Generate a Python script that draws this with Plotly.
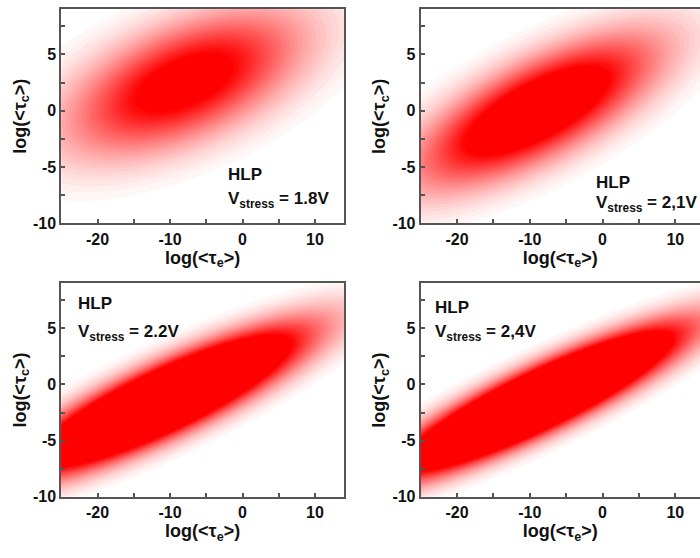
import numpy as np
import plotly.graph_objects as go

# Stress conditions for the four HLP maps
v_stress = ["1.8V", "2,1V", "2.2V", "2,4V"]

# Bivariate Gaussian parameters of log(<tau_e>) / log(<tau_c>) per map
mean_e = [-8.0, -9.0, -11.0, -9.0]
mean_c = [2.5, 0.0, -1.5, -1.5]
sigma_e = [11.0, 11.0, 12.0, 12.0]
sigma_c = [4.3, 4.4, 4.0, 4.0]
rho = [0.55, 0.72, 0.86, 0.89]
peak = [1.2, 1.5, 3.0, 3.4]

x_range = [-25, 14]
y_range = [-10, 9]
x_ticks = [-20, -10, 0, 10]
x_tick_text = ["-20", "-10", "0", "10"]
y_ticks = [-10, -5, 0, 5]
y_tick_text = ["-10", "-5", "0", "5"]

# Panel placement (paper fractions): x-domain, y-domain, x-range right limit
x_domains = [[0.0876, 0.4914], [0.6010, 1.0], [0.0876, 0.4914], [0.6010, 1.0]]
y_domains = [[0.5932, 0.9830], [0.5932, 0.9830], [0.0950, 0.4839], [0.0950, 0.4839]]
x_right = [14.0, 13.4, 14.0, 13.4]

# Label block positions (paper fractions)
label_x = [0.323, 0.849, 0.108, 0.619]
hlp_y = [0.683, 0.667, 0.448, 0.440]
v_y = [0.636, 0.628, 0.393, 0.393]

te = np.linspace(-25, 14, 260)
tc = np.linspace(-10, 9, 200)
TE, TC = np.meshgrid(te, tc)

FONT = "Liberation Sans, Arial, sans-serif"
AXIS_COLOR = "#555555"
TEXT_COLOR = "#111111"

fig = go.Figure()
for i in range(4):
    u = (TE - mean_e[i]) / sigma_e[i]
    v = (TC - mean_c[i]) / sigma_c[i]
    q = (u * u - 2 * rho[i] * u * v + v * v) / (1 - rho[i] ** 2)
    z = np.minimum(peak[i] * np.exp(-0.5 * q), 1.0)
    sfx = "" if i == 0 else str(i + 1)
    fig.add_trace(go.Contour(
        x=te, y=tc, z=z,
        xaxis="x" + sfx, yaxis="y" + sfx,
        colorscale=[[0, "#ffffff"], [1, "#ff0000"]],
        zmin=0, zmax=1,
        contours=dict(start=0.06, end=0.99, size=0.031, coloring="fill"),
        line=dict(width=0),
        showscale=False, hoverinfo="skip",
    ))

    right_panel = i in (1, 3)
    fig.layout["xaxis" + sfx] = dict(
        domain=x_domains[i], range=[x_range[0], x_right[i]],
        anchor="y" + sfx,
        tickmode="array", tickvals=x_ticks, ticktext=x_tick_text,
        ticks="inside", ticklen=4, tickwidth=1.5, tickcolor=AXIS_COLOR,
        minor=dict(ticks="inside", tickvals=[-15, -5, 5], ticklen=4,
                   tickwidth=1.5, tickcolor=AXIS_COLOR),
        showline=True, linecolor=AXIS_COLOR, linewidth=2, mirror=True,
        showgrid=False, zeroline=False,
        tickfont=dict(family=FONT, size=16, color=TEXT_COLOR, weight="bold"),
        title=dict(text="log(&lt;τ<sub>e</sub>&gt;)", standoff=4,
                   font=dict(family=FONT, size=18, color=TEXT_COLOR, weight="bold")),
    )
    fig.layout["yaxis" + sfx] = dict(
        domain=y_domains[i], range=y_range,
        anchor="x" + sfx,
        tickmode="array", tickvals=y_ticks, ticktext=y_tick_text,
        ticks="inside", ticklen=4, tickwidth=1.5, tickcolor=AXIS_COLOR,
        minor=dict(ticks="inside", tickvals=[-7.5, -2.5, 2.5, 7.5], ticklen=4,
                   tickwidth=1.5, tickcolor=AXIS_COLOR),
        showline=True, linecolor=AXIS_COLOR, linewidth=2,
        mirror=not right_panel,
        showgrid=False, zeroline=False,
        tickfont=dict(family=FONT, size=16, color=TEXT_COLOR, weight="bold"),
        title=dict(text="log(&lt;τ<sub>c</sub>&gt;)", standoff=2,
                   font=dict(family=FONT, size=18, color=TEXT_COLOR, weight="bold")),
    )

    fig.add_annotation(x=label_x[i], y=hlp_y[i], xref="paper", yref="paper",
                       xanchor="left", yanchor="middle", showarrow=False,
                       text="<b>HLP</b>",
                       font=dict(family=FONT, size=17, color=TEXT_COLOR))
    fig.add_annotation(x=label_x[i], y=v_y[i], xref="paper", yref="paper",
                       xanchor="left", yanchor="middle", showarrow=False,
                       text="<b>V<sub>stress</sub> = " + v_stress[i] + "</b>",
                       font=dict(family=FONT, size=17, color=TEXT_COLOR))

fig.update_layout(
    width=700, height=558,
    margin=dict(l=0, r=0, t=0, b=0),
    paper_bgcolor="white", plot_bgcolor="white",
    showlegend=False,
)

fig.write_html("out.html")
